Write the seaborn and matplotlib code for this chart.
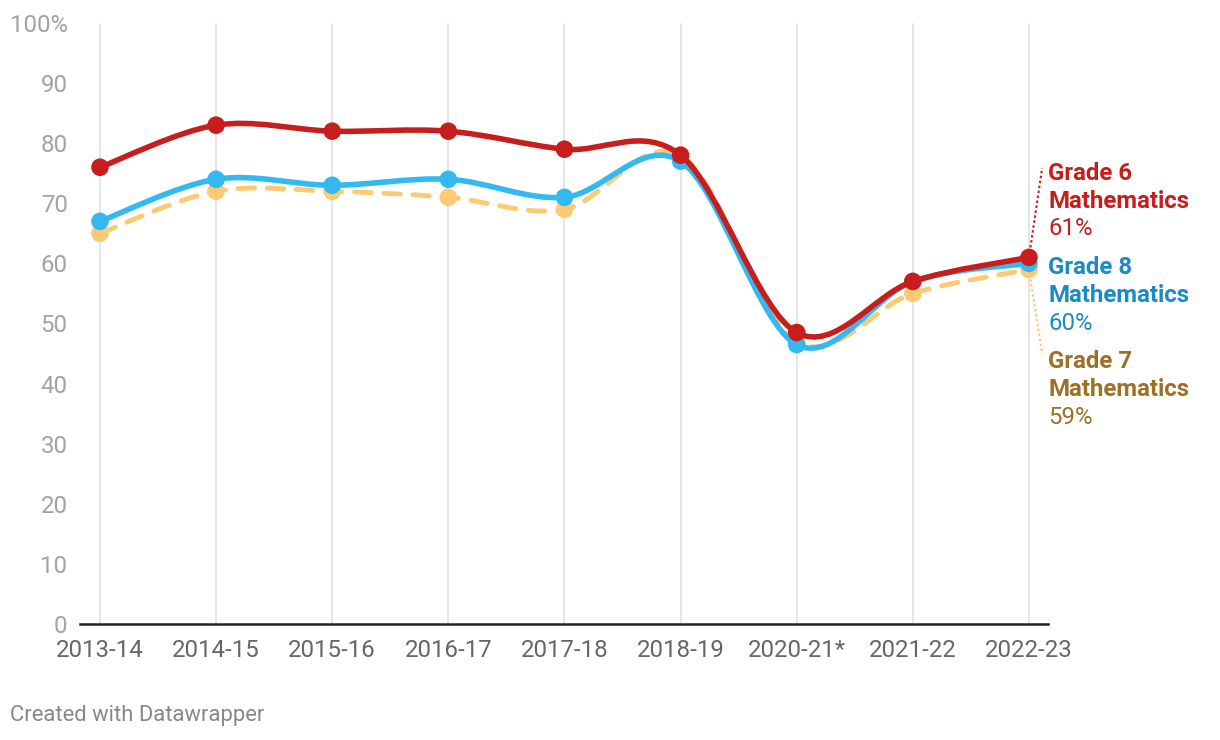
import numpy as np
import pandas as pd
import matplotlib
matplotlib.use("Agg")
import matplotlib.pyplot as plt
from matplotlib.path import Path
from matplotlib.patches import PathPatch
import seaborn as sns

years = ["2013-14", "2014-15", "2015-16", "2016-17", "2017-18",
         "2018-19", "2020-21*", "2021-22", "2022-23"]
grade6 = [76, 83, 82, 82, 79, 78, 48.5, 57, 61]
grade8 = [67, 74, 73, 74, 71, 77, 46.5, 57, 60]
grade7 = [65, 72, 72, 71, 69, 78, 47, 55, 59]
y_ticks = [0, 10, 20, 30, 40, 50, 60, 70, 80, 90, 100]
y_tick_labels = ["0", "10", "20", "30", "40", "50", "60", "70", "80", "90", "100%"]

series = [
    # name, values, line colour, text colour, dashed, zorder
    ("Grade 7", grade7, "#fdc975", "#9d7125", True, 3),
    ("Grade 8", grade8, "#33b9f1", "#1a8bc5", False, 4),
    ("Grade 6", grade6, "#c71e1d", "#c71e1d", False, 5),
]

sns.set_theme(style="white")
plt.rcParams["font.family"] = ["Roboto", "DejaVu Sans"]

fig = plt.figure(figsize=(12.2, 7.4), dpi=100)
ax = fig.add_axes([80 / 1220, 116 / 740, (1048 - 80) / 1220, 601 / 740])

x = np.arange(len(years))


def catmull_path(xs, ys):
    pts = np.column_stack([xs, ys]).astype(float)
    n = len(pts)
    verts = [pts[0]]
    codes = [Path.MOVETO]
    for i in range(n - 1):
        p0 = pts[i - 1] if i > 0 else pts[i]
        p1 = pts[i]
        p2 = pts[i + 1]
        p3 = pts[i + 2] if i + 2 < n else pts[i + 1]
        c1 = p1 + (p2 - p0) / 6.0
        c2 = p2 - (p3 - p1) / 6.0
        verts += [c1, c2, p2]
        codes += [Path.CURVE4] * 3
    return Path(verts, codes)


for name, vals, lc, tc, dashed, z in series:
    patch = PathPatch(catmull_path(x, vals), fill=False, edgecolor=lc,
                      linewidth=4.0 if not dashed else 3.5,
                      linestyle=(0, (3.4, 2.6)) if dashed else "-",
                      capstyle="round", joinstyle="round", zorder=z)
    ax.add_patch(patch)
    df = pd.DataFrame({"x": x, "y": vals})
    sns.scatterplot(data=df, x="x", y="y", ax=ax, color=lc, s=160,
                    edgecolor="none", zorder=z + 0.1, legend=False)

# vertical grid lines
for xi in x:
    ax.axvline(xi, ymin=0, ymax=0.998, color="#e3e3e3", linewidth=1.3, zorder=1)

ax.set_xlim(-0.172, 8.164)
ax.set_ylim(0, 100)
ax.set_xticks(x)
ax.set_xticklabels(years)
ax.set_yticks(y_ticks)
ax.set_yticklabels(y_tick_labels)
ax.tick_params(axis="x", length=0, pad=11, labelsize=17.3, labelcolor="#666666")
ax.tick_params(axis="y", length=0, pad=9, labelsize=17.3, labelcolor="#a3a3a3")
ax.set_xlabel("")
ax.set_ylabel("")
for s in ["top", "right", "left"]:
    ax.spines[s].set_visible(False)
ax.spines["bottom"].set_color("#222222")
ax.spines["bottom"].set_linewidth(1.8)
ax.spines["bottom"].set_zorder(6)

# right-side labels
ppu = 601 / 100.0  # pixels per unit
label_x = (1048 - 100) / 116.1
blocks = [
    ("Grade 6", "Mathematics", f"{grade6[-1]}%", "#c71e1d", 173),
    ("Grade 8", "Mathematics", f"{grade8[-1]}%", "#1a8bc5", 267),
    ("Grade 7", "Mathematics", f"{grade7[-1]}%", "#9d7125", 361),
]
for l1, l2, l3, col, ypx in blocks:
    for j, (txt, wt) in enumerate([(l1, "bold"), (l2, "bold"), (l3, "normal")]):
        yv = (624 - (ypx + 28 * j)) / ppu
        ax.text(label_x, yv, txt, color=col, fontsize=17.3, fontweight=wt,
                ha="left", va="center", clip_on=False)

# leader lines
ax.plot([8, (1042 - 100) / 116.1], [grade6[-1], (624 - 168) / ppu],
        color="#c71e1d", linestyle=(0, (1.2, 1.2)), linewidth=1.5,
        clip_on=False, zorder=2)
ax.plot([8, (1042 - 100) / 116.1], [grade7[-1], (624 - 354) / ppu],
        color="#fdc975", linestyle=(0, (1.2, 1.2)), linewidth=1.5,
        clip_on=False, zorder=2)

fig.text(10 / 1220, 1 - 716 / 740, "Created with Datawrapper", fontsize=15.8,
         color="#888888", ha="left", va="center")

fig.savefig("out.png", dpi=100, facecolor="white")
